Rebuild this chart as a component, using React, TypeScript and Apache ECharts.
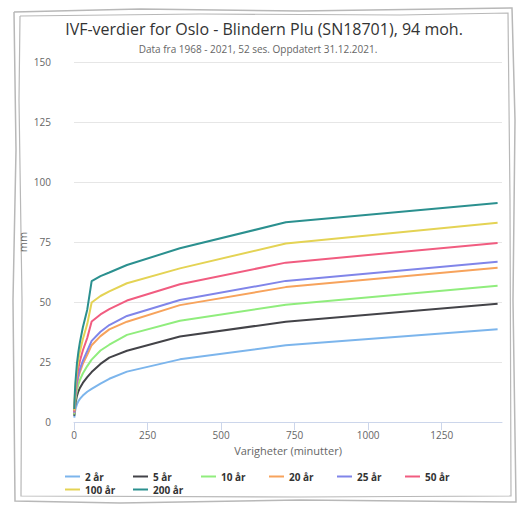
import React, { useEffect, useRef } from "react";
import * as echarts from "echarts";

const durations = [1, 2, 3, 5, 10, 15, 20, 30, 45, 60, 90, 120, 180, 360, 720, 1440];
const seriesNames = ["2 år", "5 år", "10 år", "20 år", "25 år", "50 år", "100 år", "200 år"];
const v2 = [1.8, 3.0, 4.0, 5.3, 7.4, 8.7, 9.6, 11.0, 12.6, 13.8, 16.0, 18.0, 21.0, 26.1, 32.0, 38.6];
const v5 = [2.6, 4.4, 5.8, 7.8, 10.9, 12.8, 14.2, 16.3, 18.7, 20.8, 24.2, 26.8, 29.7, 35.6, 41.8, 49.3];
const v10 = [3.1, 5.3, 7.0, 9.4, 13.3, 15.7, 17.5, 20.2, 23.3, 26.0, 29.8, 32.2, 36.3, 42.2, 48.9, 56.8];
const v20 = [3.6, 6.2, 8.2, 11.0, 15.7, 18.7, 20.8, 24.2, 28.0, 32.0, 35.8, 38.6, 41.8, 48.7, 56.2, 64.3];
const v25 = [3.8, 6.5, 8.6, 11.6, 16.5, 19.6, 21.9, 25.5, 29.6, 33.8, 37.6, 40.4, 44.2, 50.8, 58.8, 66.8];
const v50 = [4.3, 7.4, 9.8, 13.2, 19.0, 22.6, 25.4, 29.8, 35.0, 41.9, 44.8, 47.0, 50.6, 57.4, 66.4, 74.6];
const v100 = [4.8, 8.4, 11.1, 15.0, 21.6, 25.9, 29.2, 34.5, 40.8, 49.8, 52.5, 54.4, 57.8, 64.0, 74.4, 83.0];
const v200 = [5.4, 9.4, 12.4, 16.8, 24.4, 29.3, 33.2, 39.4, 46.8, 58.7, 60.8, 62.3, 65.4, 72.4, 83.2, 91.2];
const seriesValues = [v2, v5, v10, v20, v25, v50, v100, v200];
const colors = ["#7cb5ec", "#434348", "#90ed7d", "#f7a35c", "#8085e9", "#f15c80", "#e4d354", "#2b908f"];

const titleText = "IVF-verdier for Oslo - Blindern Plu (SN18701), 94 moh.";
const subtitleText = "Data fra 1968 - 2021, 52 ses. Oppdatert 31.12.2021.";
const yAxisName = "mm";
const xAxisName = "Varigheter (minutter)";

const FONT = "'Open Sans', 'DejaVu Sans', sans-serif";

export default function App() {
  const ref = useRef<HTMLDivElement>(null);
  useEffect(() => {
    if (!ref.current) return;
    const chart = echarts.init(ref.current, undefined, { renderer: "svg" });
    const frameColor = "#b8b8b8";
    chart.setOption({
      animation: false,
      color: colors,
      textStyle: { fontFamily: FONT },
      title: [
        {
          text: titleText,
          left: 259,
          textAlign: "center",
          top: 16,
          textStyle: { fontSize: 16, fontWeight: "normal", color: "#333", fontFamily: FONT },
        },
        {
          text: subtitleText,
          left: 253,
          textAlign: "center",
          top: 39,
          textStyle: { fontSize: 10, fontWeight: "normal", color: "#666", fontFamily: FONT },
        },
      ],
      grid: { left: 74, right: 17, top: 62, bottom: 85, containLabel: false },
      xAxis: {
        type: "value",
        min: 0,
        max: 1455,
        interval: 250,
        name: xAxisName,
        nameLocation: "middle",
        nameGap: 23,
        nameMoveOverlap: false,
        nameTextStyle: { color: "#666", fontSize: 11, fontFamily: FONT },
        axisLine: { show: true, lineStyle: { color: "#ccd6eb", width: 1 } },
        axisTick: { show: true, length: 8, lineStyle: { color: "#ccd6eb" } },
        axisLabel: {
          color: "#666",
          fontSize: 10,
          margin: 8,
          showMaxLabel: false,
          fontFamily: FONT,
          formatter: (v: number) => String(v),
        },
        splitLine: { show: false },
      },
      yAxis: {
        type: "value",
        min: 0,
        max: 150,
        interval: 25,
        name: yAxisName,
        nameLocation: "middle",
        nameGap: 46,
        nameMoveOverlap: false,
        nameTextStyle: { color: "#666", fontSize: 11, fontFamily: FONT },
        axisLine: { show: false },
        axisTick: { show: false },
        axisLabel: { color: "#666", fontSize: 10, margin: 23, fontFamily: FONT },
        splitLine: { lineStyle: { color: "#e6e6e6", width: 1 } },
      },
      legend: {
        left: 65,
        top: 470,
        width: 430,
        icon: "rect",
        itemWidth: 15,
        itemHeight: 2,
        itemGap: 0,
        padding: 0,
        textStyle: { color: "#333", fontSize: 10, fontWeight: "bold", width: 48, lineHeight: 13, fontFamily: FONT },
        data: seriesNames,
      },
      series: seriesNames.map((name, i) => ({
        name,
        type: "line",
        symbol: "none",
        lineStyle: { width: 2 },
        data: durations.map((d, j) => [d, seriesValues[i][j]]),
      })),
      graphic: [
        {
          type: "polyline",
          silent: true,
          shape: { points: [[14, 12], [140, 9], [300, 11], [512, 8], [515, 120], [513, 300], [516, 502], [300, 500], [120, 503], [15, 501], [13, 300], [16, 150], [14, 12]] },
          style: { stroke: frameColor, lineWidth: 1.5, fill: null },
        },
        {
          type: "polyline",
          silent: true,
          shape: { points: [[20, 16], [200, 14], [400, 15], [508, 13], [510, 200], [511, 496], [300, 497], [21, 496], [22, 300], [19, 100], [20, 16]] },
          style: { stroke: frameColor, lineWidth: 1.2, fill: null },
        },
      ],
    });
    return () => chart.dispose();
  }, []);
  return <div ref={ref} style={{ position: "fixed", left: 0, top: 0, width: 519, height: 507, background: "#fff" }} />;
}
